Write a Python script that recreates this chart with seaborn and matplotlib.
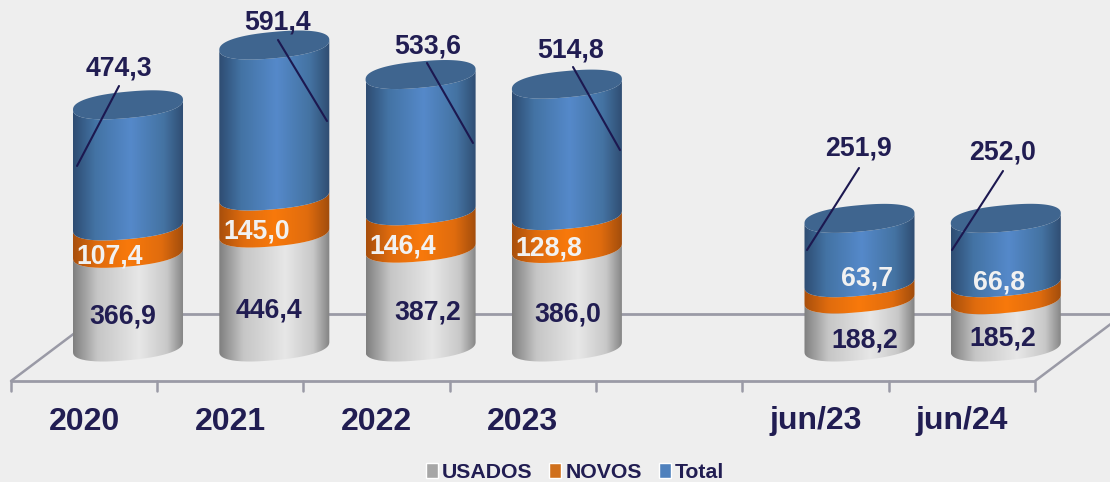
import numpy as np
import matplotlib
matplotlib.use('Agg')
import matplotlib.pyplot as plt
from matplotlib.colors import LinearSegmentedColormap
from matplotlib.patches import Patch, Polygon
from matplotlib.path import Path
import seaborn as sns

# Data
slots = ['2020', '2021', '2022', '2023', ' ', 'jun/23', 'jun/24']
categories = ['2020', '2021', '2022', '2023', 'jun/23', 'jun/24']
usados = [366.9, 446.4, 387.2, 386.0, 188.2, 185.2]
novos = [107.4, 145.0, 146.4, 128.8, 63.7, 66.8]
total = [474.3, 591.4, 533.6, 514.8, 251.9, 252.0]
usados_text = ['366,9', '446,4', '387,2', '386,0', '188,2', '185,2']
novos_text = ['107,4', '145,0', '146,4', '128,8', '63,7', '66,8']
total_text = ['474,3', '591,4', '533,6', '514,8', '251,9', '252,0']

# Label places in picture pixels
usados_xy = [(123, 316), (269, 311), (428, 313), (568, 314), (865, 341), (1003, 339)]
novos_xy = [(110, 256), (257, 231), (403, 247), (549, 249), (867, 279), (999, 282)]
total_xy = [(119, 68), (278, 23), (428, 46), (571, 51), (859, 149), (1003, 153)]
leaders = [((119, 86), (77, 166)), ((278, 40), (327, 121)), ((427, 63), (473, 143)),
           ((573, 67), (620, 150)), ((859, 168), (807, 250)), ((1003, 171), (952, 250))]

NAVY = '#211d52'
BG = '#eeeeee'
FLOOR = '#9a9aa6'

sns.set_theme(style='white')
plt.rcParams['font.family'] = ['Liberation Sans', 'DejaVu Sans']
plt.rcParams['font.weight'] = 'bold'

fig = plt.figure(figsize=(11.1, 4.82), dpi=100, facecolor=BG)
ax = fig.add_axes([0, 0, 1, 1])

# Scale: category centres are 146.3 px apart, 0.2553 px per unit, base at y=347
X0, DX, Y0, DY = 128, 146.3, 347, 0.2553


def to_x(px):
    return (px - X0) / DX


def to_y(py):
    return (Y0 - py) / DY


grey_cmap = LinearSegmentedColormap.from_list('g', [(0, '#7f7f7f'), (0.22, '#c6c6c6'), (0.6, '#e7e7e7'),
                                                    (0.85, '#c8c8c8'), (1, '#828282')])
orange_cmap = LinearSegmentedColormap.from_list('o', [(0, '#a84f0c'), (0.22, '#e06c0e'), (0.5, '#f8790b'),
                                                      (0.8, '#e06c0e'), (1, '#a04c0c')])
blue_cmap = LinearSegmentedColormap.from_list('b', [(0, '#2e4c72'), (0.2, '#4373a4'), (0.52, '#5589ca'),
                                                    (0.82, '#4473a2'), (1, '#2f4c71')])

B = 13.2 / DY      # half height of the ellipse
SHEAR = 0.09 * DX / DY
POWER = 0.85       # slightly blunt ends, like the office 3D cylinder
t_front = np.linspace(np.pi, 2 * np.pi, 80)


def rim(cx, half, base, th):
    cos_t, sin_t = np.cos(th), np.sin(th)
    xs = np.sign(cos_t) * np.abs(cos_t) ** POWER
    ys = np.sign(sin_t) * np.abs(sin_t) ** POWER
    return np.column_stack([cx + half * xs, base + B * ys + SHEAR * half * xs])


u = np.array(usados)
n = np.array(novos)
t = np.array(total)
tops = [u, u + n, u + n + t]
bottoms = [np.zeros(6), u, u + n]
cmaps = [grey_cmap, orange_cmap, blue_cmap]
gradient = np.linspace(0, 1, 256)[None, :]

for heights, lows, cmap in zip(tops, bottoms, cmaps):
    sns.barplot(x=categories, y=heights, order=slots, width=0.752, color='#888888', ax=ax)
    for bar in ax.containers[-1]:
        if np.isnan(bar.get_height()):
            continue
        bar.set_visible(False)
        half = bar.get_width() / 2
        cx = bar.get_x() + half
        i = categories.index(slots[int(round(cx))])
        low = rim(cx, half, lows[i], t_front)
        high = rim(cx, half, bar.get_height(), t_front)
        im = ax.imshow(gradient, cmap=cmap, aspect='auto', zorder=3,
                       extent=[cx - half, cx + half, to_y(500), to_y(0)])
        im.set_clip_path(Path(np.vstack([low, high[::-1]])), ax.transData)
        if cmap is blue_cmap:
            lid = rim(cx, half, bar.get_height(), np.linspace(0, 2 * np.pi, 160))
            ax.add_patch(Polygon(lid, closed=True, facecolor='#3f658f', edgecolor='none', zorder=4))

# Floor of the 3D chart
ax.plot([to_x(11), to_x(1035)], [to_y(381), to_y(381)], color=FLOOR, lw=2, zorder=1, solid_capstyle='butt')
ax.plot([to_x(100), to_x(1110)], [to_y(314), to_y(314)], color=FLOOR, lw=2, zorder=1)
ax.plot([to_x(11), to_x(100)], [to_y(381), to_y(314)], color=FLOOR, lw=1.8, zorder=1)
ax.plot([to_x(1035), to_x(1124)], [to_y(381), to_y(314)], color=FLOOR, lw=1.8, zorder=1)
for k in range(8):
    tick_x = k - 0.5 - 44 / DX
    ax.plot([tick_x, tick_x], [to_y(381), to_y(391)], color=FLOOR, lw=1.8, zorder=1)

# Category labels sit left of the bars, as on the 3D floor
for name in categories:
    ax.text(slots.index(name) - 44 / DX, to_y(421.5), name, ha='center', va='center',
            fontsize=23, color=NAVY, fontweight='bold', zorder=6)

# Value labels and leader lines
for texts, places, colour in [(usados_text, usados_xy, NAVY), (novos_text, novos_xy, '#f1f1f1'),
                              (total_text, total_xy, NAVY)]:
    for s, (px, py) in zip(texts, places):
        ax.text(to_x(px), to_y(py), s, ha='center', va='center', fontsize=19.2,
                color=colour, fontweight='bold', zorder=6)

for (a, b) in leaders:
    ax.plot([to_x(a[0]), to_x(b[0])], [to_y(a[1]), to_y(b[1])], color='#1c1850', lw=1.5, zorder=5)

ax.set_xlim(to_x(0), to_x(1110))
ax.set_ylim(to_y(482), to_y(0))
ax.axis('off')

handles = [Patch(facecolor='#a6a6a6'), Patch(facecolor='#d0701c'), Patch(facecolor='#4f81bd')]
ax.legend(handles, ['USADOS', 'NOVOS', 'Total'], ncol=3, frameon=False, loc='center',
          bbox_to_anchor=(575 / 1110, 1 - 472.5 / 482), fontsize=15.3, labelcolor=NAVY,
          handlelength=0.56, handleheight=0.7, handletextpad=0.19, columnspacing=0.8,
          borderpad=0, borderaxespad=0)

fig.savefig('out.png', dpi=100, facecolor=BG)
